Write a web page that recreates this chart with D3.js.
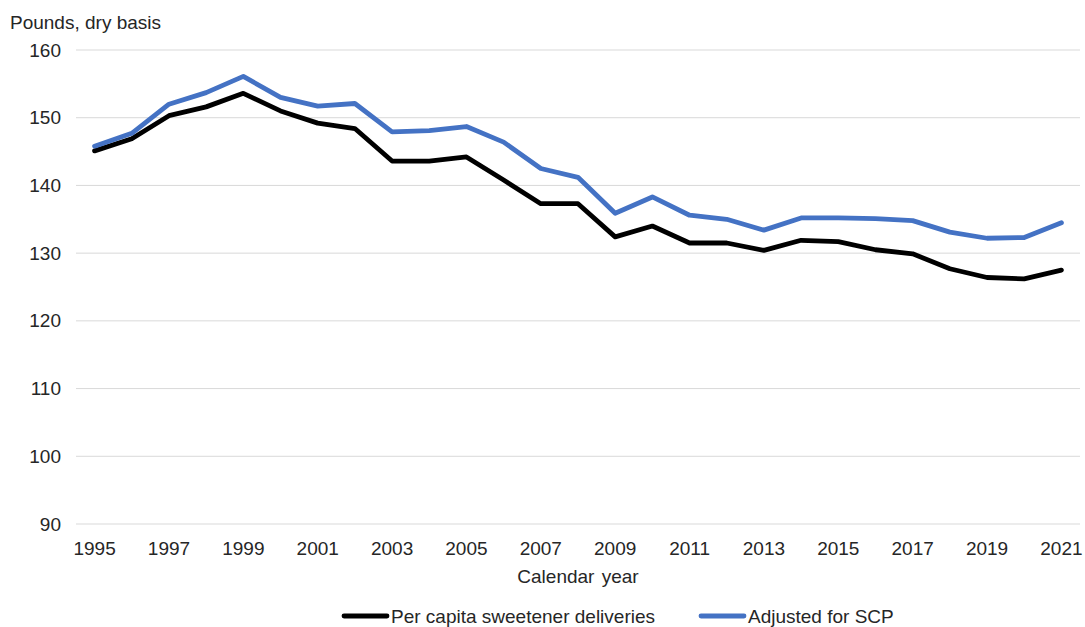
<!DOCTYPE html>
<html>
<head>
<meta charset="utf-8">
<script src="https://cdn.jsdelivr.net/npm/d3@7"></script>
<style>
  html, body { margin: 0; padding: 0; background: #fff; }
  svg { display: block; font-family: "Liberation Sans", Arial, sans-serif; }
</style>
</head>
<body>
<svg id="chart" width="1085" height="627"></svg>
<script>
// Calendar years
const years = [1995, 1996, 1997, 1998, 1999, 2000, 2001, 2002, 2003, 2004, 2005, 2006, 2007,
  2008, 2009, 2010, 2011, 2012, 2013, 2014, 2015, 2016, 2017, 2018, 2019, 2020, 2021];

// Per capita sweetener deliveries, pounds dry basis
const perCapita = [145.1, 146.9, 150.3, 151.6, 153.6, 151.0, 149.2, 148.4, 143.6, 143.6, 144.2, 140.8, 137.3,
  137.3, 132.4, 134.0, 131.5, 131.5, 130.4, 131.9, 131.7, 130.5, 129.9, 127.7, 126.4, 126.2, 127.5];

// Adjusted for SCP
const adjustedSCP = [145.8, 147.7, 152.0, 153.7, 156.1, 153.0, 151.7, 152.1, 147.9, 148.1, 148.7, 146.4, 142.5,
  141.2, 135.9, 138.3, 135.6, 135.0, 133.4, 135.2, 135.2, 135.1, 134.8, 133.1, 132.2, 132.3, 134.5];

const yTicks = [90, 100, 110, 120, 130, 140, 150, 160];
const xTickYears = years.filter((d, i) => i % 2 === 0);

const seriesNames = ["Per capita sweetener deliveries", "Adjusted for SCP"];
const seriesColors = ["#000000", "#4472C4"];

const textColor = "#262626";
const fontSize = 19;

const svg = d3.select("#chart");
const plot = { left: 76, right: 1080, top: 50, bottom: 524 };

const x = d3.scaleBand()
  .domain(years)
  .range([plot.left, plot.right])
  .paddingInner(0)
  .paddingOuter(0);

const y = d3.scaleLinear()
  .domain([90, 160])
  .range([plot.bottom, plot.top]);

const cx = d => x(d) + x.bandwidth() / 2;

// Horizontal gridlines
svg.append("g")
  .selectAll("line")
  .data(yTicks)
  .join("line")
  .attr("x1", plot.left)
  .attr("x2", plot.right)
  .attr("y1", d => y(d))
  .attr("y2", d => y(d))
  .attr("stroke", "#d9d9d9")
  .attr("stroke-width", 1);

// Y axis labels
const yAxis = d3.axisLeft(y).tickValues(yTicks).tickSize(0).tickPadding(0);
const gy = svg.append("g")
  .attr("transform", `translate(${plot.left - 15},0)`)
  .call(yAxis);
gy.select(".domain").remove();
gy.selectAll("text")
  .attr("font-size", fontSize)
  .attr("fill", textColor)
  .attr("font-family", "Liberation Sans, Arial, sans-serif");

// X axis labels
const xAxis = d3.axisBottom(x).tickValues(xTickYears).tickSize(0).tickPadding(0);
const gx = svg.append("g")
  .attr("transform", `translate(0,${plot.bottom + 13})`)
  .call(xAxis);
gx.select(".domain").remove();
gx.selectAll("text")
  .attr("font-size", fontSize)
  .attr("fill", textColor)
  .attr("dy", "0.95em")
  .attr("font-family", "Liberation Sans, Arial, sans-serif");

// Axis titles
svg.append("text")
  .attr("x", 10)
  .attr("y", 28.5)
  .attr("font-size", fontSize)
  .attr("fill", textColor)
  .text("Pounds, dry basis");

svg.append("text")
  .attr("x", (plot.left + plot.right) / 2)
  .attr("y", 583)
  .attr("text-anchor", "middle")
  .attr("font-size", fontSize)
  .attr("word-spacing", 2)
  .attr("fill", textColor)
  .text("Calendar year");

// Series lines
const line = d3.line()
  .x((d, i) => cx(years[i]))
  .y(d => y(d))
  .curve(d3.curveLinear);

[perCapita, adjustedSCP].forEach((vals, k) => {
  svg.append("path")
    .datum(vals)
    .attr("fill", "none")
    .attr("stroke", seriesColors[k])
    .attr("stroke-width", 4.8)
    .attr("stroke-linejoin", "round")
    .attr("stroke-linecap", "round")
    .attr("d", line);
});

// Legend
const legendItems = [
  { name: seriesNames[0], color: seriesColors[0], x: 344 },
  { name: seriesNames[1], color: seriesColors[1], x: 701 }
];
const lg = svg.append("g");
legendItems.forEach(it => {
  lg.append("line")
    .attr("x1", it.x)
    .attr("x2", it.x + 43)
    .attr("y1", 616)
    .attr("y2", 616)
    .attr("stroke", it.color)
    .attr("stroke-width", 4.8)
    .attr("stroke-linecap", "round");
  lg.append("text")
    .attr("x", it.x + 47)
    .attr("y", 623)
    .attr("font-size", fontSize)
    .attr("fill", textColor)
    .text(it.name);
});
</script>
</body>
</html>
